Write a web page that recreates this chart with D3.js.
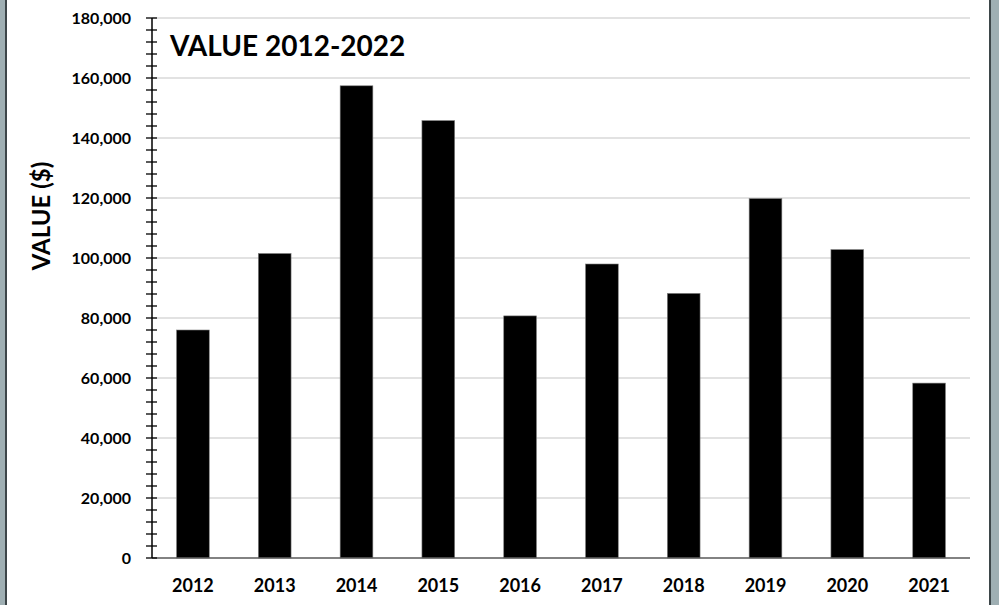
<!DOCTYPE html>
<html><head><meta charset="utf-8">
<script src="https://cdn.jsdelivr.net/npm/d3@7"></script>
<style>
html,body{margin:0;padding:0;background:#fff;}
svg{display:block;}
text{font-family:Lato,"Open Sans",sans-serif;font-weight:bold;fill:#000;}
</style></head>
<body>
<script>
const years = ["2012","2013","2014","2015","2016","2017","2018","2019","2020","2021"];
const values = [76000,101500,157400,145800,80700,98000,88200,119800,102800,58300];
const yTicks = [0,20000,40000,60000,80000,100000,120000,140000,160000,180000];
const titleText = "VALUE 2012-2022";
const yTitle = "VALUE ($)";

const W=999,H=605;
const svg=d3.select("body").append("svg").attr("width",W).attr("height",H);
// frame strips
svg.append("rect").attr("x",0).attr("y",0).attr("width",6).attr("height",H).attr("fill","#9fafb3");
svg.append("rect").attr("x",5).attr("y",0).attr("width",2).attr("height",H).attr("fill","#3d4649");
svg.append("rect").attr("x",990).attr("y",0).attr("width",9).attr("height",H).attr("fill","#9fafb3");
svg.append("rect").attr("x",989).attr("y",0).attr("width",2).attr("height",H).attr("fill","#3d4649");

const L=152,R=970,T=18,B=558;
const x=d3.scaleBand().domain(years).range([L,R]).paddingInner(0.6).paddingOuter(0.3);
const y=d3.scaleLinear().domain([0,180000]).range([B,T]);

// gridlines
svg.append("g").selectAll("line").data(yTicks.filter(d=>d>0)).join("line")
  .attr("x1",L).attr("x2",R).attr("y1",d=>y(d)).attr("y2",d=>y(d))
  .attr("stroke","#d9d9d9").attr("stroke-width",1.5);

// bars
svg.append("g").selectAll("rect").data(values).join("rect")
  .attr("x",(d,i)=>x(years[i])).attr("width",x.bandwidth())
  .attr("y",d=>y(d)).attr("height",d=>B-y(d))
  .attr("fill","#000").attr("stroke","#7f7f7f").attr("stroke-width",0.6);

// x axis line
svg.append("line").attr("x1",L).attr("x2",R).attr("y1",B).attr("y2",B)
  .attr("stroke","#595959").attr("stroke-width",1.5);

// y axis with minor ticks
const minor = d3.range(0,180001,4000);
svg.append("g").selectAll("line").data(minor).join("line")
  .attr("x1",L-6).attr("x2",L+5).attr("y1",d=>y(d)).attr("y2",d=>y(d))
  .attr("stroke","#000").attr("stroke-width",1.3);
svg.append("line").attr("x1",L).attr("x2",L).attr("y1",T).attr("y2",B)
  .attr("stroke","#000").attr("stroke-width",1.5);

const yAxis = d3.axisLeft(y).tickValues(yTicks).tickSize(0).tickPadding(21)
  .tickFormat(d3.format(","));
const gy=svg.append("g").attr("transform",`translate(${L},0)`).call(yAxis);
gy.select(".domain").remove();
gy.selectAll("text").style("font-family","Lato,sans-serif").style("font-weight","bold")
  .style("font-size","16px").attr("dy","0.35em");

const xAxis=d3.axisBottom(x).tickSize(0).tickPadding(28);
const gx=svg.append("g").attr("transform",`translate(0,${B})`).call(xAxis);
gx.select(".domain").remove();
gx.selectAll("text").style("font-family","Lato,sans-serif").style("font-weight","bold")
  .style("font-size","18px").attr("dy","0.35em");

svg.append("text").attr("x",170).attr("y",56).style("font-size","28px").text(titleText);
svg.append("text").attr("transform","translate(50,216) rotate(-90)")
  .attr("text-anchor","middle").style("font-size","24px").text(yTitle);
</script>
</body></html>
